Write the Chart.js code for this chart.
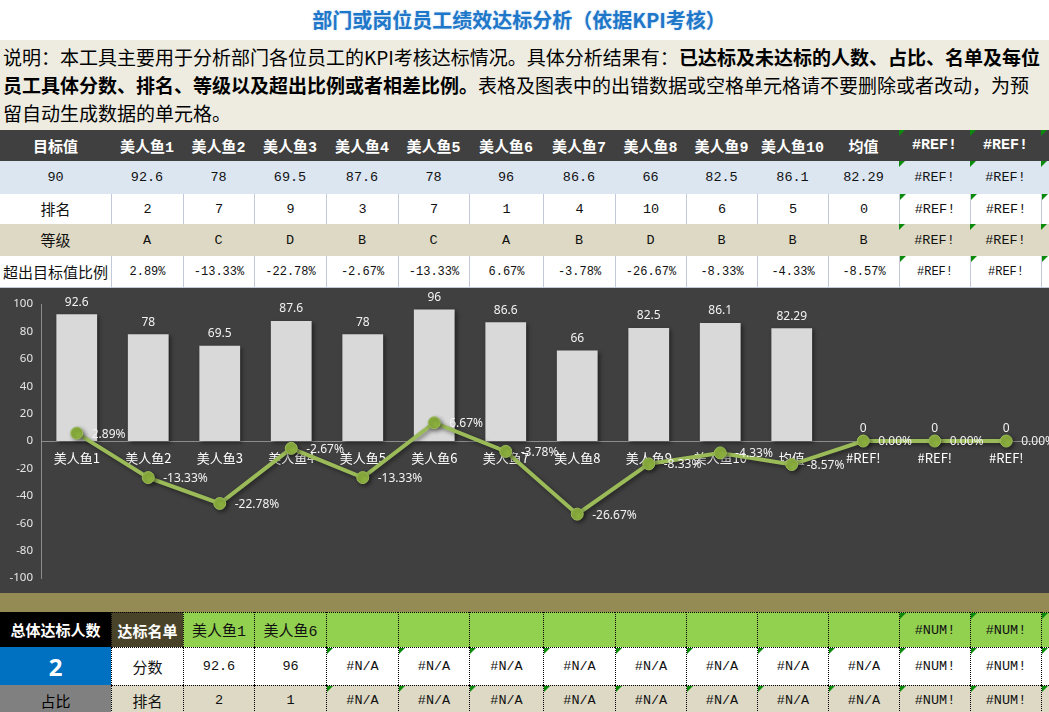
<!DOCTYPE html>
<html>
<head>
<meta charset="utf-8">
<title>部门或岗位员工绩效达标分析</title>
<script src="https://cdn.jsdelivr.net/npm/chart.js"></script>
<style>
  body { margin: 0; width: 1049px; height: 712px; overflow: hidden; position: relative; background: #fff;
         font-family: "Noto Sans CJK SC", sans-serif; }
  #title { position: absolute; left: 0; top: 0; width: 1038px; height: 40px; line-height: 40px; text-align: center;
           font-size: 20px; font-weight: bold; color: #1F77C9; text-shadow: 0 0 2px rgba(31, 119, 201, .35); }
  #desc { position: absolute; left: 0; top: 40px; width: 1049px; height: 90px; background: #EEECE1; box-sizing: border-box;
          padding: 3px 0 0 3px; font-size: 19px; line-height: 28px; white-space: nowrap; color: #000; }
  .c { position: absolute; box-sizing: border-box; display: flex; align-items: center; justify-content: center;
       white-space: nowrap; overflow: hidden; color: #111; }
  .err::before { content: ''; position: absolute; left: 0; top: 0; border-top: 6px solid #0B8A0B; border-right: 6px solid transparent; }
  #chartBox { position: absolute; left: 0; top: 288px; width: 1049px; height: 305px; background: #404040; }
  #band { position: absolute; left: 0; top: 593px; width: 1049px; height: 19px; background: #948A54; }
</style>
</head>
<body>
<div id="title">部门或岗位员工绩效达标分析（依据KPI考核）</div>
<div id="desc">说明：本工具主要用于分析部门各位员工的KPI考核达标情况。具体分析结果有：<b>已达标及未达标的人数、占比、名单及每位</b><br><b>员工具体分数、排名、等级以及超出比例或者相差比例。</b>表格及图表中的出错数据或空格单元格请不要删除或者改动，为预<br>留自动生成数据的单元格。</div>
<div id="chartBox"><canvas id="kpi-chart"></canvas></div>
<div id="band"></div>
<script>
// chart data
var categories = ['美人鱼1', '美人鱼2', '美人鱼3', '美人鱼4', '美人鱼5', '美人鱼6', '美人鱼7', '美人鱼8', '美人鱼9', '美人鱼10', '均值', '#REF!', '#REF!', '#REF!'];
var scores = [92.6, 78, 69.5, 87.6, 78, 96, 86.6, 66, 82.5, 86.1, 82.29, 0, 0, 0];
var ratios = [2.89, -13.33, -22.78, -2.67, -13.33, 6.67, -3.78, -26.67, -8.33, -4.33, -8.57, 0, 0, 0];

// table text
var headRow = ['目标值', '美人鱼1', '美人鱼2', '美人鱼3', '美人鱼4', '美人鱼5', '美人鱼6', '美人鱼7', '美人鱼8', '美人鱼9', '美人鱼10', '均值', '#REF!', '#REF!', ''];
var scoreRow = ['90', '92.6', '78', '69.5', '87.6', '78', '96', '86.6', '66', '82.5', '86.1', '82.29', '#REF!', '#REF!', ''];
var rankRow = ['排名', '2', '7', '9', '3', '7', '1', '4', '10', '6', '5', '0', '#REF!', '#REF!', ''];
var gradeRow = ['等级', 'A', 'C', 'D', 'B', 'C', 'A', 'B', 'D', 'B', 'B', 'B', '#REF!', '#REF!', ''];
var ratioRow = ['超出目标值比例', '2.89%', '-13.33%', '-22.78%', '-2.67%', '-13.33%', '6.67%', '-3.78%', '-26.67%', '-8.33%', '-4.33%', '-8.57%', '#REF!', '#REF!', ''];

var passNames = ['总体达标人数', '达标名单', '美人鱼1', '美人鱼6', '', '', '', '', '', '', '', '', '#NUM!', '#NUM!', ''];
var passScores = ['2', '分数', '92.6', '96', '#N/A', '#N/A', '#N/A', '#N/A', '#N/A', '#N/A', '#N/A', '#N/A', '#NUM!', '#NUM!', ''];
var passRanks = ['占比', '排名', '2', '1', '#N/A', '#N/A', '#N/A', '#N/A', '#N/A', '#N/A', '#N/A', '#N/A', '#NUM!', '#NUM!', ''];

var colX = [0, 111, 183, 254, 326, 398, 469, 543, 615, 686, 757, 828, 899, 970, 1041, 1049];
var mono = '"Liberation Mono", "Noto Sans CJK SC", monospace';

function addCell(col, y, h, text, css, err) {
    var d = document.createElement('div');
    d.className = 'c' + (err ? ' err' : '');
    d.style.cssText = 'left:' + colX[col] + 'px;top:' + y + 'px;width:' + (colX[col + 1] - colX[col]) + 'px;height:' + h + 'px;' + css;
    d.textContent = text;
    document.body.appendChild(d);
}

function addRow(texts, y, h, cssFor, errFrom) {
    texts.forEach(function(t, i) {
        addCell(i, y, h, t, cssFor(i), errFrom !== undefined && i >= errFrom);
    });
}

// top table
addRow(headRow, 130, 31, function(i) {
    return 'background:#404040;color:#fff;font-weight:bold;font-size:15px;font-family:' + mono + ';';
}, 12);
addRow(scoreRow, 161, 33, function(i) {
    return 'background:#DCE6F1;font-size:13.5px;font-family:' + mono + ';';
}, 12);
addRow(rankRow, 194, 30, function(i) {
    return 'background:#fff;border-left:' + (i ? '1px solid #C3C9D8' : 'none') + ';font-size:' + (i ? '13.5px' : '15px') + ';font-family:' + mono + ';';
}, 12);
addRow(gradeRow, 224, 32, function(i) {
    return 'background:#DDD9C4;font-size:' + (i ? '13.5px' : '15px') + ';font-family:' + mono + ';';
}, 12);
addRow(ratioRow, 256, 32, function(i) {
    return 'background:#fff;border-bottom:1px solid #C3C9D8;border-left:' + (i ? '1px solid #C3C9D8' : 'none') + ';font-size:' + (i ? '12px' : '15px') + ';font-family:' + mono + ';';
}, 12);

// bottom table
var dots = 'border-left:1px dotted #000;border-top:1px dotted #000;';
addRow(passNames, 612, 35, function(i) {
    if (i === 0) return 'background:#000;color:#fff;font-weight:bold;font-size:15px;';
    if (i === 1) return 'background:#494429;color:#fff;font-weight:bold;font-size:15px;' + dots;
    return 'background:#92D050;font-size:' + (i < 4 ? '15px' : '13.5px') + ';font-family:' + mono + ';' + dots;
}, 12);
addRow(passScores, 647, 38, function(i) {
    if (i === 0) return 'background:#0070C0;color:#fff;font-weight:bold;font-size:24px;font-family:"Noto Sans",sans-serif;';
    return 'background:#fff;font-size:' + (i === 1 ? '15px' : '13.5px') + ';font-family:' + mono + ';' + dots;
}, 4);
addRow(passRanks, 685, 30, function(i) {
    if (i === 0) return 'background:#808080;color:#000;font-size:15px;';
    return 'background:#DDD9C4;font-size:' + (i === 1 ? '15px' : '13.5px') + ';font-family:' + mono + ';' + dots;
}, 4);

// labels + shadows
var labelPlugin = {
    id: 'valueLabels',
    beforeDatasetDraw: function(chart, args) {
        var ctx = chart.ctx;
        ctx.save();
        ctx.shadowColor = 'rgba(0,0,0,0.45)';
        ctx.shadowBlur = 4;
        ctx.shadowOffsetX = 2;
        ctx.shadowOffsetY = 2;
    },
    afterDatasetDraw: function(chart) {
        chart.ctx.restore();
    },
    afterDatasetsDraw: function(chart) {
        var ctx = chart.ctx;
        ctx.save();
        ctx.font = '12px "Noto Sans"';
        ctx.fillStyle = '#F2F2F2';
        ctx.textAlign = 'center';
        ctx.textBaseline = 'middle';
        chart.getDatasetMeta(0).data.forEach(function(bar, i) {
            ctx.fillText(String(scores[i]), bar.x, bar.y - 12);
        });
        ctx.textAlign = 'left';
        chart.getDatasetMeta(1).data.forEach(function(pt, i) {
            ctx.fillText(ratios[i].toFixed(2) + '%', pt.x + 15, pt.y + 1);
        });
        ctx.restore();
    }
};

var ctx = document.getElementById('kpi-chart');

var myChart = new Chart(ctx, {
    type: 'bar',
    data: {
        labels: categories,
        datasets: [{
            type: 'bar',
            label: '分数',
            data: scores,
            backgroundColor: '#D9D9D9',
            barPercentage: 0.57,
            categoryPercentage: 1,
            yAxisID: 'y',
            order: 2
        }, {
            type: 'line',
            label: '超出目标值比例',
            data: ratios,
            borderColor: '#9BBB59',
            borderWidth: 4,
            pointRadius: 6,
            pointHoverRadius: 6,
            pointBackgroundColor: '#8DB13F',
            pointBorderColor: '#9BBB59',
            pointBorderWidth: 1,
            tension: 0,
            yAxisID: 'y1',
            order: 1
        }]
    },
    options: {
        responsive: true,
        maintainAspectRatio: false,
        animation: false,
        layout: { padding: { top: 16, bottom: 14, left: 0, right: 0 } },
        plugins: { legend: { display: false }, tooltip: { enabled: false } },
        scales: {
            x: {
                position: { y: 0 },
                grid: { display: false, drawTicks: false },
                border: { display: true, color: '#8C8C8C', width: 1 },
                ticks: { color: '#FFFFFF', padding: 9, maxRotation: 0, autoSkip: false,
                         font: { family: '"Noto Sans CJK SC"', size: 13 } }
            },
            y: {
                min: -100,
                max: 100,
                grid: { display: false, drawTicks: false },
                border: { display: true, color: '#8C8C8C', width: 1 },
                ticks: { stepSize: 20, color: '#E6E6E6', padding: 8,
                         font: { family: '"Noto Sans"', size: 11.5 } },
                afterFit: function(scale) { scale.width = 41; }
            },
            y1: {
                display: false,
                min: -50,
                max: 50
            }
        }
    },
    plugins: [labelPlugin]
});
</script>
</body>
</html>
